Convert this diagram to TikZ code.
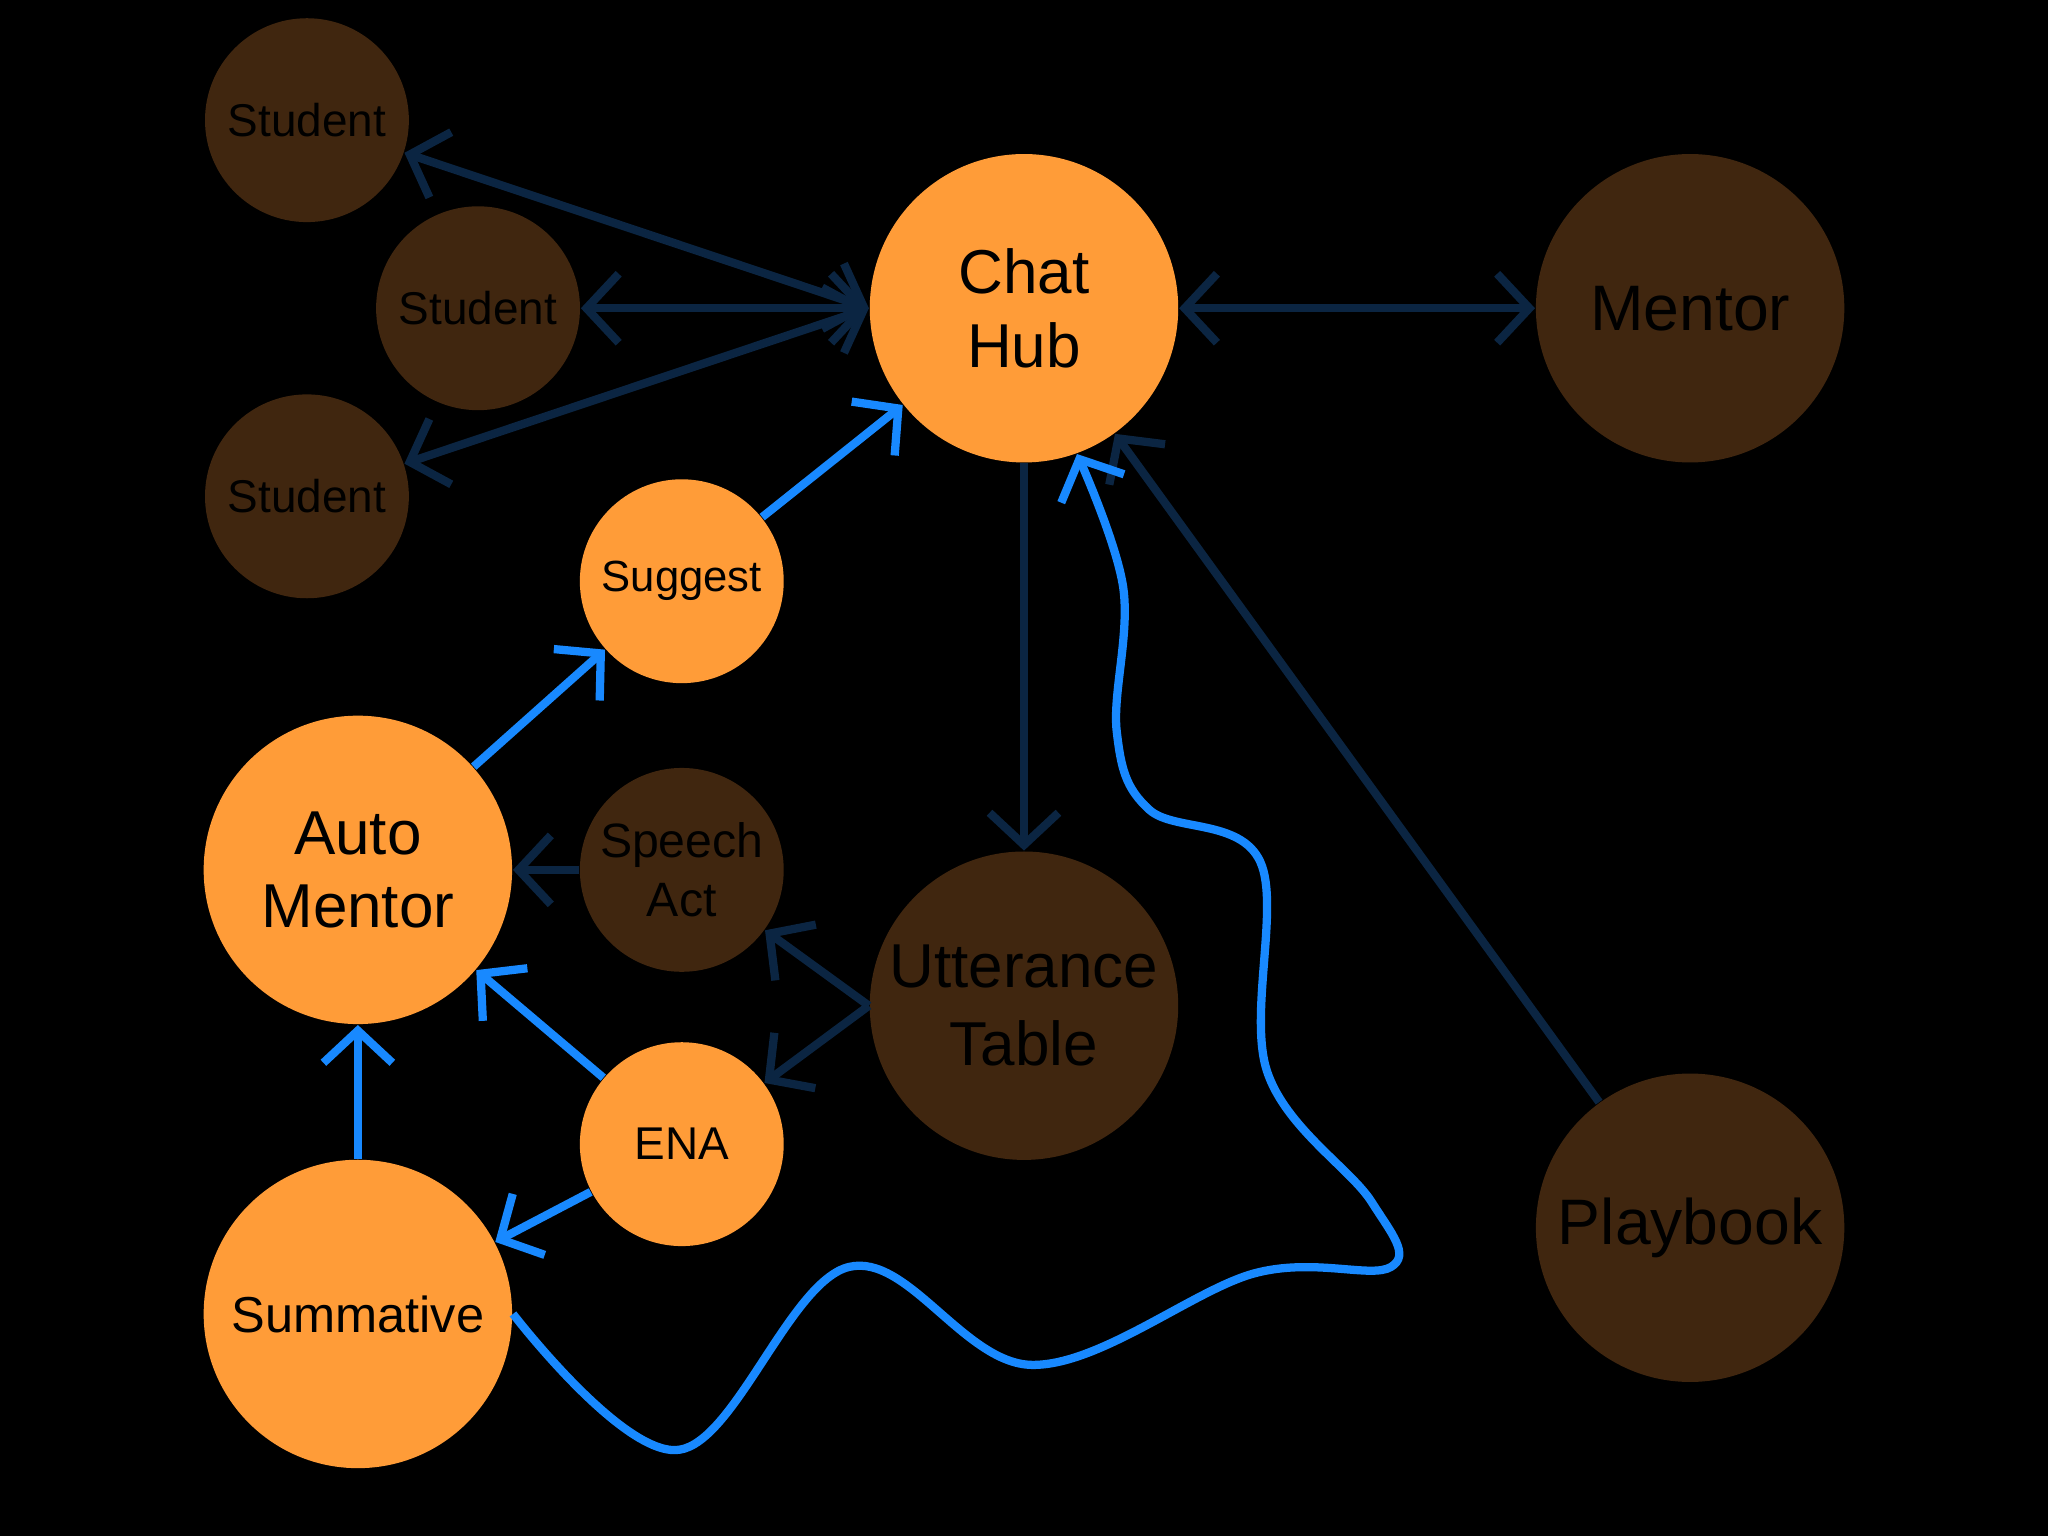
\documentclass[tikz,border=0pt]{standalone}
\usepackage{fontspec}
\setmainfont{Liberation Sans}
\usetikzlibrary{arrows.meta}
\definecolor{org}{HTML}{FF9C38}
\definecolor{brn}{HTML}{40260F}
\definecolor{dkb}{HTML}{0B2542}
\definecolor{brb}{HTML}{1889FF}
\begin{document}
\begin{tikzpicture}[x=0.01cm,y=-0.01cm,
 big/.style={circle,inner sep=0pt,minimum size=2.36cm,font=\fontsize{13.5}{16}\selectfont,align=center},
 small/.style={circle,inner sep=0pt,minimum size=1.56cm,font=\fontsize{10}{12}\selectfont,align=center},
 O/.style={fill=org}, B/.style={fill=brn},
 tip/.style={},
 arr/.style={line width=1.8pt,-{Straight Barb[length=7pt,width=15pt,line width=1.8pt]}},
 darr/.style={arr,dkb}, barr/.style={arr,brb},
 both/.style={{Straight Barb[length=7pt,width=15pt,line width=1.8pt]}-{Straight Barb[length=7pt,width=15pt,line width=1.8pt]}}]
\useasboundingbox (0,0) rectangle (1568,1176);
\fill[black] (0,0) rectangle (1568,1176);
\node[small,B] (s1) at (235,92) {Student};
\node[small,B] (s2) at (366,236) {Student};
\node[small,B] (s3) at (235,380) {Student};
\node[big,O] (hub) at (784,236) {Chat\\Hub};
\node[big,B,font=\fontsize{14}{17}\selectfont] (men) at (1294,236) {Mentor};
\node[small,O,font=\fontsize{9.5}{12}\selectfont] (sug) at (522,445) {Suggest};
\node[big,O] (auto) at (274,666) {Auto\\Mentor};
\node[small,B,font=\fontsize{10.5}{13}\selectfont] (sp) at (522,666) {Speech\\Act};
\node[big,B,font=\fontsize{13.5}{17}\selectfont] (ut) at (784,770) {Utterance\\Table};
\node[small,O] (ena) at (522,876) {ENA};
\node[big,O,font=\fontsize{11}{13}\selectfont] (sum) at (274,1006) {Summative};
\node[big,B,font=\fontsize{14}{17}\selectfont] (pb) at (1294,940) {Playbook};
\draw[darr,both] (s1) -- (hub.west);
\draw[darr,both] (s2) -- (hub.west);
\draw[darr,both] (s3) -- (hub.west);
\draw[darr,both] (hub) -- (men);
\draw[darr] (hub) -- (ut);
\draw[darr] (pb) -- (hub);
\draw[darr] (sp) -- (auto);
\draw[darr] (ut.west) -- (sp);
\draw[darr] (ut.west) -- (ena);
\draw[barr] (sug) -- (hub);
\draw[barr] (auto) -- (sug);
\draw[barr] (ena) -- (auto);
\draw[barr] (ena) -- (sum);
\draw[barr] (sum) -- (auto);
\draw[line width=1.8pt,brb,-{Straight Barb[length=7pt,width=15pt,line width=1.8pt]}] plot[smooth,tension=0.6] coordinates {(sum.east) (520,1110) (650,970) (790,1045) (960,975) (1065,970) (1050,920) (970,820) (965,660) (880,620) (855,560) (860,450) (hub.-70)};
\end{tikzpicture}
\end{document}
